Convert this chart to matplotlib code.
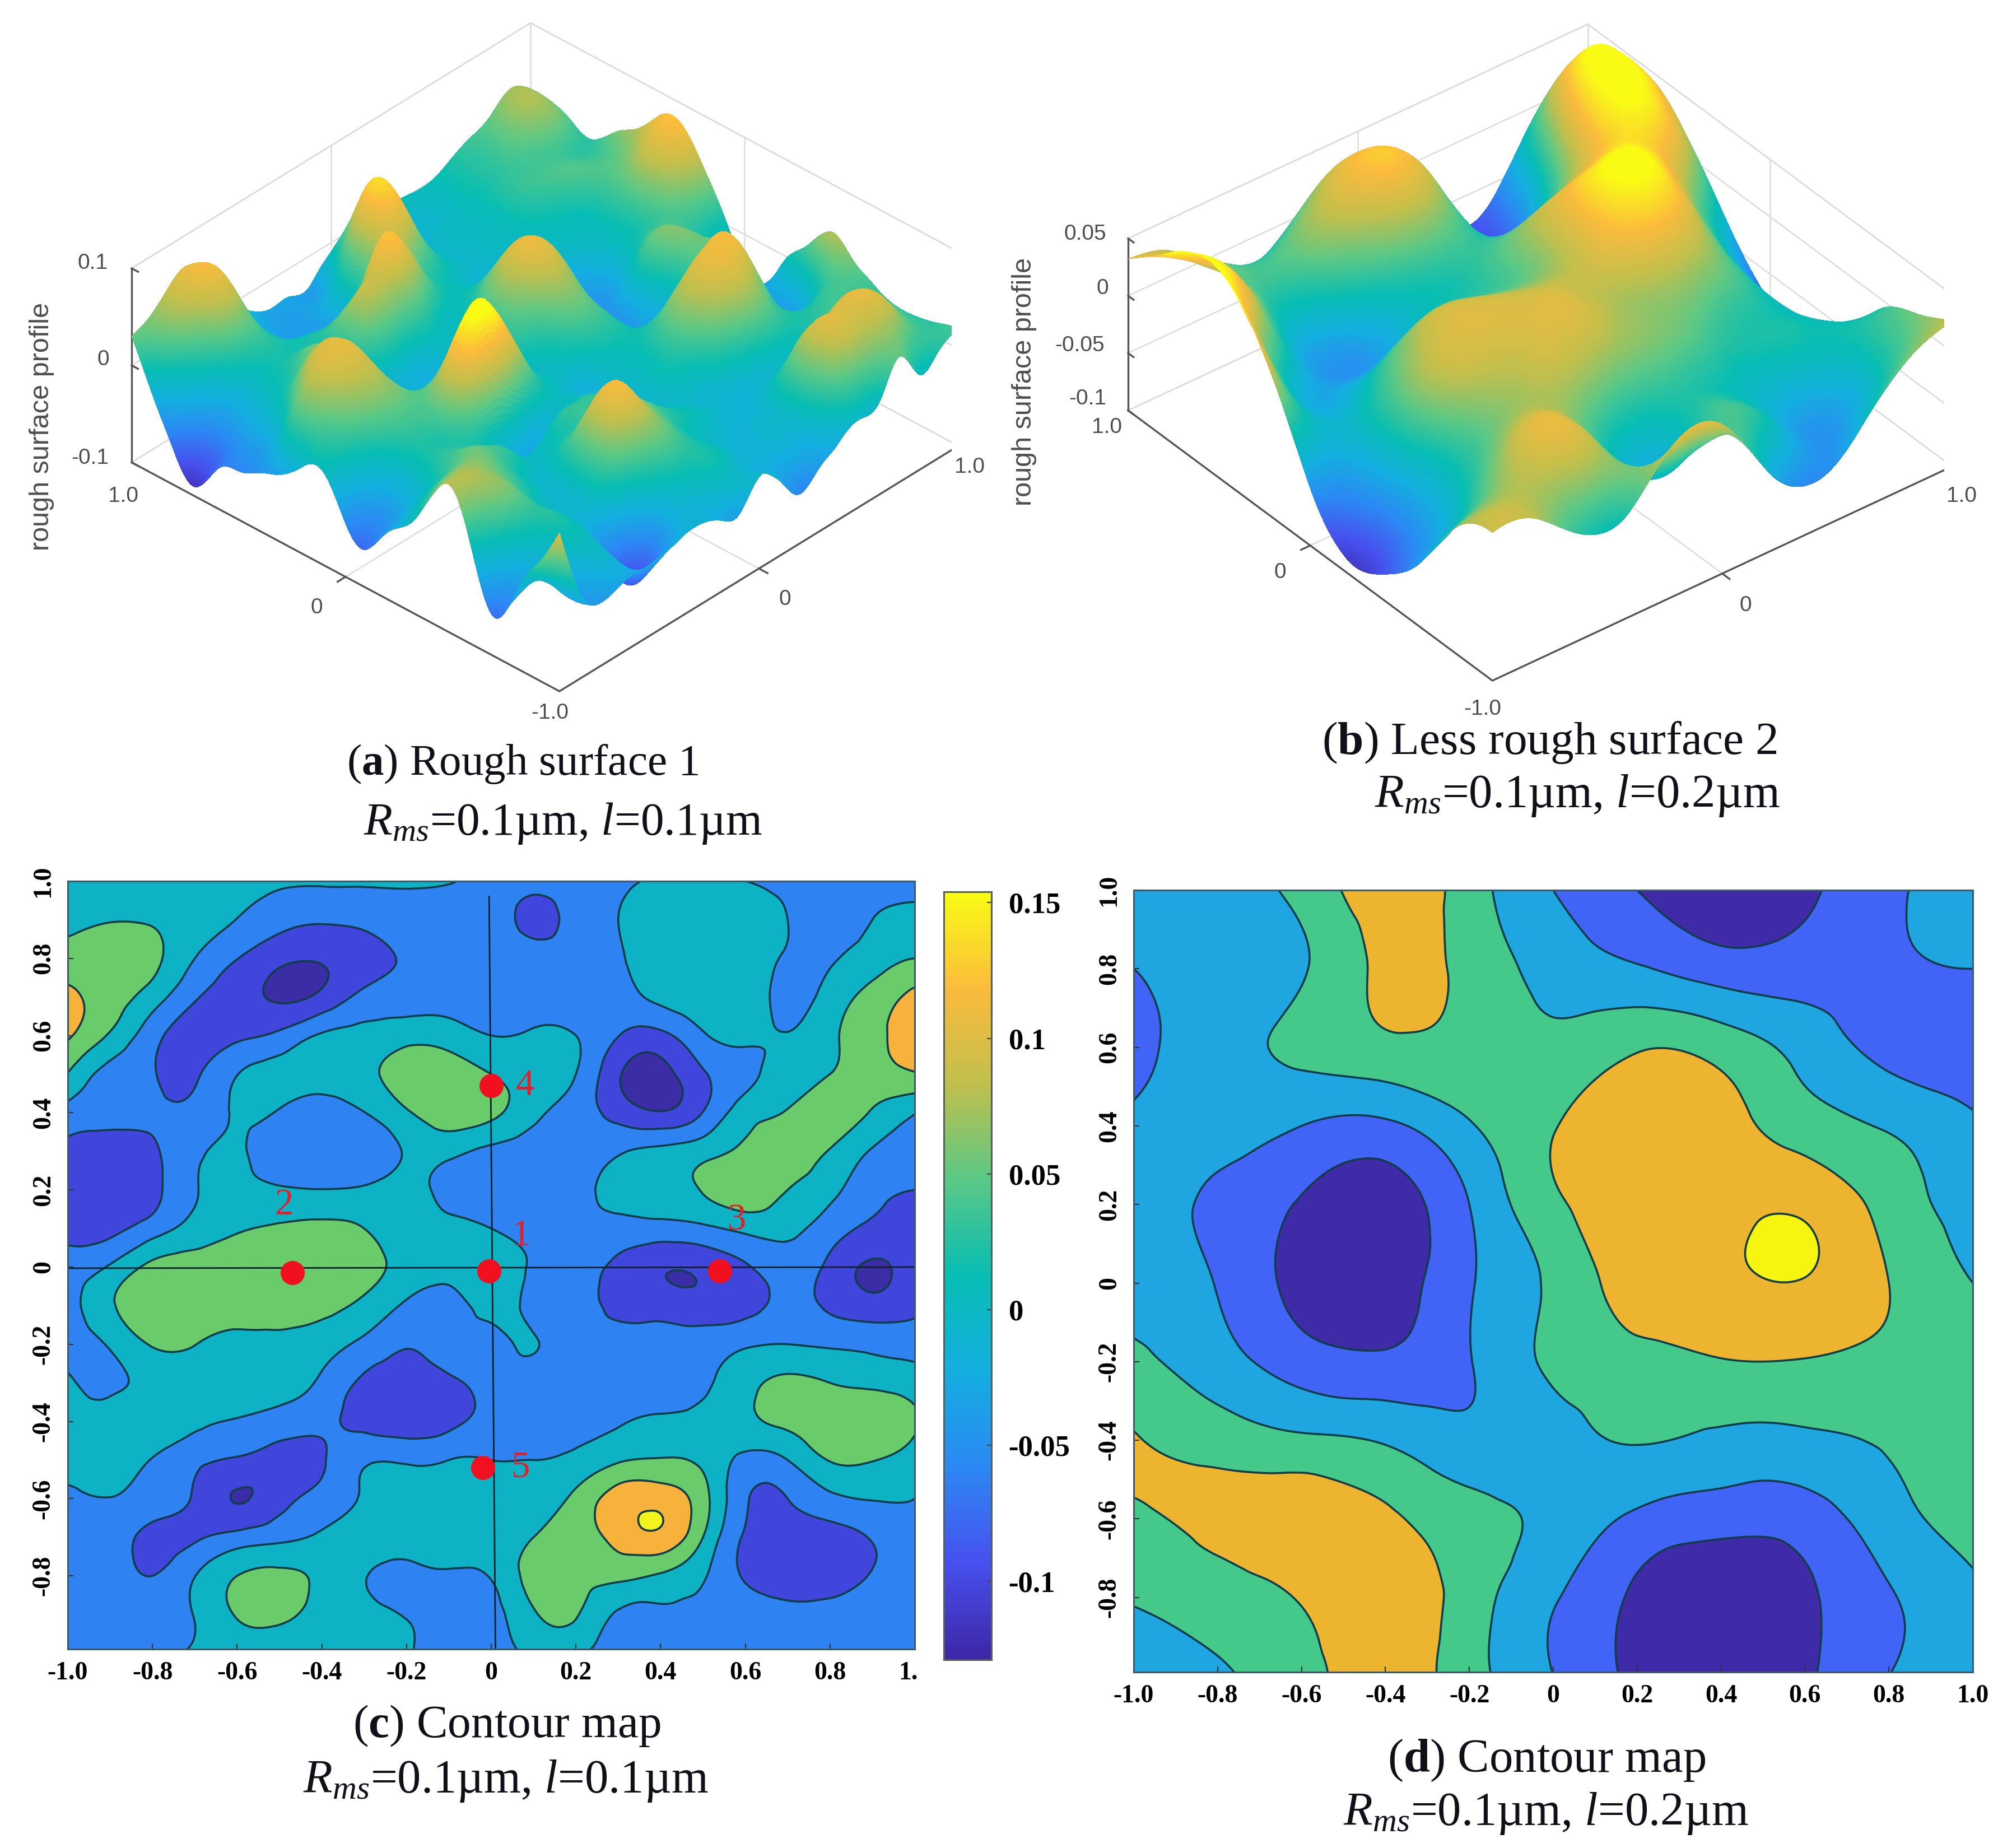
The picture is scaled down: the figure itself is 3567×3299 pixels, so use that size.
import numpy as np
import matplotlib
matplotlib.use("Agg")
import matplotlib.pyplot as plt
import matplotlib.tri as mtri
from matplotlib.colors import LinearSegmentedColormap
from matplotlib.cm import ScalarMappable
from matplotlib.colors import Normalize
from matplotlib.transforms import Bbox
from mpl_toolkits.mplot3d import proj3d

W, H = 3567, 3299

plt.rcParams["font.family"] = ["Liberation Serif", "DejaVu Sans"]
plt.rcParams["mathtext.fontset"] = "custom"
plt.rcParams["mathtext.rm"] = "Liberation Serif"
plt.rcParams["mathtext.it"] = "Liberation Serif:italic"
plt.rcParams["mathtext.bf"] = "Liberation Serif:bold"
plt.rcParams["contour.negative_linestyle"] = "solid"

parula = LinearSegmentedColormap.from_list("parula", [
    "#3e26a8", "#4750ee", "#2c88f4", "#14aee0", "#07bdb3",
    "#5ac886", "#c0bf4d", "#fbbb3c", "#f9fb15"])

# surface heights, rows from y=1.0 down to y=-1.0, in units of 0.01
surf_a = [
    [3, 4, 6, 6.5, 3, 0, -2, -3, -3, -3, -1, -2, -1, 0, 0, 0, 1, 2, 3, 4.5, 3],
    [-2, 3, 6, 7.5, 4, -.5, -3, -3.5, -3, -1, 4, 2, -1, -1.5, -1, 0, 1, 2, 4, 5, 3],
    [-6.6, -2, 2.5, 4.5, 2, -1, -3, -3.5, -2, 4, 9, 5, 0, -1, -.5, 0, 1, 2, 3, 3.5, 2],
    [-9, -5, -1, 1, 1, 0, -1, -2.5, 0, 5, 7.5, 4, 0, -1, -.5, 0, 1.5, 2, 2, 1.5, 1.5],
    [-6, -4, -1, .5, 1, 1, 2, 3, 7, 6.5, 3, 1, -.5, -1, -.5, 0, 1, 2, 2.5, 2, 3.5],
    [-5, -3, 0, 2, 3, 1, 4.5, 5.5, 6, 4, 1, 0, -1, -1.5, -1, -.5, 0, .5, 2, 3, 5],
    [-4, -1, 3.5, 5.5, 3.5, 0, 1, 1, 1, 0, 0, 1.5, 2, 0, -1.5, -1.5, -.5, 0, 2, 5, 7.5],
    [-3, 3.5, 6.5, 7, 4, -1.5, -2, -2, -1, 0, 2, 5, 6, 3, -1, -3.5, -2, 0, 2, 6, 8],
    [-1, 3, 5.5, 6, 3.5, 0, -1, -1.5, -1, 0, 3, 6, 7, 4, -1, -4, -2, 1, 2, 4, 5],
    [-.5, 1, 3, 4, 3, 2, 2, 1, 0, 1, 2, 4, 5, 2, -2, -4, 1, 3.5, 2, 1, 1],
    [-4.5, -3, 0, 2, 2.5, 6, 9, 7, 3, 0, 0, 2, 3, 1, -2, -3, 0, 3.5, 2, -1, -3.5],
    [-6, -4, -1, 1, 2, 7, 9.5, 7, 3, 0, -1, 0, 1, .5, -1, -1, 1, 3, 2, -2, -4],
    [-3, -2, 0, 1.5, 1, 0, -1, -2, -1, -.5, -2, -1, 0, 1, 3, 5, 6.5, 5, -2, -3.5, 0],
    [-1, 1, 2, 3, 2, 0, -1.5, 0, 1, 1, -1, -1, 0, 2, 5, 7, 7.5, 5, -2, -4, 2.5],
    [3, 4, 4, 3, 1, -.5, 0, 1, 2, 1.5, 0, -1, 0, 1, 3.5, 5.5, 5, 2, -1, -1, 5],
    [5, 5, 4, 2, 0, -1, 2, 5, 5, 3, 1, -.5, -1, -1, 0, 1, 1.5, 1, 1, 2, 3.5],
    [-1, 2, 3, 1, -1, -1, 3, 7.5, 6, 3, 1, 0, -1, -1.5, -1.5, -1, 0, 1, 2, 2, 2],
    [-6, -3, 0, 1, -1, -2, 1, 4, 4, 2, 0, -1, -1.5, -1.5, 0, 3, 3.5, 4.5, 4, 3, 1],
    [-2, -2, -1, 0, -2, -6.5, -6, -1, 1, 1, 0, -1.5, -1.5, -1, 1, 6, 6.5, 7, 6, 3, 1],
    [2, -2, -3, -1, -3, -6, -5, -2, -1, 0, -1, -2, -2, -2, 0, 4.5, 5, 5, 4, 2, 1.5],
    [6.3, -1, -3.5, -3, -2.7, -2.5, -2, -1.7, -2.5, -3.2, -.6, -2, -4.9, -3.5, -2.1, -1, -.6, 2.9, -.1, 1, 2.2],
]
surf_b = [
    [3.2, 2, -1, -2, 1.5, 3, -1.2, -7, -6, 0, 2],
    [6, 3, 0, 1, 3.5, 5, .5, -7, -3, 6, 4.2],
    [8.2, 3.5, -3, -3, 0, 1, -1, -3, 2, 7.5, 4],
    [7, -1.5, -4.5, -4.5, -2, -1, 1, 3, 5, 6, .5],
    [2, -3, -2, 1, 1.5, .5, 2, 6, 7, 2, -4],
    [-5, -3, 1, 3.5, 3.5, 3, 3, 5, 4.5, -1, -7.5],
    [-8.8, -4, 1.5, 3, 3.5, 3.5, 2, 2, 1, -2, -9],
    [-7.8, -4, 0, 2, 2.5, 1.5, 1, 0, -1, -2, -6],
    [-4.5, -1.5, 2.5, 3, -1, -2, -1, -2, -2, -1.5, -1],
    [1, 2, 3, 2.5, -2, -2, 0, -3, -5, -2, 1],
    [2.9, 2.2, -1, -.8, 3.4, 3, -3, -5.8, -3, 1, 2.7],
]
# contour maps, same row order; map c in units of 0.01, map d in contour bands
map_c = [
    [0, .5, .5, .5, .5, 0, 0, 0, 0, -.3, -2, -3, -2.5, -1, -.3, -.3, -.5, -1.5, -2.5, -3, -3],
    [2.5, 3.3, 3, 1.5, -.6, -3, -4, -3.5, -2.5, -2, -2.5, -5.5, -3, -.5, 1, 1.5, 1, -.5, -2.5, -.5, 1],
    [5, 5.5, 4.5, -.5, -4.4, -7.5, -8, -6, -4, -2.5, -2, -3, -3, -1, 1.5, 2, 1.5, -1, -1, 1.5, 3.5],
    [8.5, 5.5, 1.5, -4, -7, -9, -7.5, -3.5, -2.5, -2, -2, -2, -2.5, -2, .5, 2, 1.5, -1.5, 1, 5, 8.5],
    [8, 3, -3, -6.5, -5.5, -3.5, 0, 1, 2, 1.5, -.5, 0, -.5, -4.4, -5.5, -1, .3, -.3, 2.5, 6.5, 9],
    [3.3, -2, -4.3, -5, -.6, .8, 1.5, 2.5, 5.5, 6, 3.5, 1.5, -.5, -8, -10, -5, -1.5, 1.5, 3.5, 6, 7.2],
    [-2, -3.5, -4, -3.5, 0, -.9, -2.5, -.6, 3, 6, 4.5, .5, -2.5, -6, -8.2, -4.4, 1.5, 3.8, 6, 3, -.3],
    [-5.5, -6, -5, -1.5, 0, -3, -4, -3, -.2, .5, -1.5, -2.5, -3, -1, .5, 2, 4.5, 5.5, 3.2, -.8, -2],
    [-6, -6.5, -5.5, -.8, .5, 0, -.4, 0, .5, -1.5, -3, -3.2, -2, 1, 2, 3.8, 6, 3.5, .5, -3, -4.5],
    [-5.5, -5.5, -2.5, 1, 3, 4, 4.5, 3.5, 1, .5, -.5, -2, -2, -2, -2, -1.3, .5, .5, -2.5, -5.5, -6.5],
    [-3, 0, 4.5, 5.5, 6, 6.5, 6.5, 5, 2, 1, 1.2, -1, -3, -5.5, -8, -7.5, -5, -2.5, -5.5, -9, -6],
    [-2.5, 3, 5.5, 6, 5.5, 6, 5, 2.5, -1.2, -2, .5, -1.5, -3, -5.5, -6.2, -7, -6, -3.5, -5.2, -7, -5.5],
    [-2, 0, 3.8, 3.6, 2.5, 2, 1, -1.5, -4.2, -2.5, -1.5, -.3, -2.5, -3, -3, -2.5, -1, -.5, -1, -1.5, -2],
    [0, -1, .5, 1.5, 1.5, .5, -1, -5.5, -7, -5.5, -3, -2.5, -2.5, -2, -2, -1, 2, 4.5, 3.5, 2.5, 1.5],
    [.5, .6, 1.5, .5, -.8, -2, -3.5, -6, -7, -5.8, -3, -2.5, -1.8, -.8, 0, .5, 2.5, 4.5, 6.5, 7, 4],
    [1, 1, -.7, -3.5, -5, -6.5, -5, -1, -1, -.5, -.5, -.5, .5, 3, 3.8, 2.5, -1.5, -.5, 3.7, 3.7, 1.5],
    [-1.5, -.6, -2.5, -5, -8.7, -6, -3, -.2, 1, 1, 1, 1.5, 4.5, 9.5, 10, 5, -4, -4.5, -1.5, -.3, -.5],
    [-2, -3, -5.5, -5, -3, -1.5, .2, 1, 1, 1, 1.5, 3.5, 5.5, 9, 10.5, 3.5, -5, -6.5, -6.2, -4.2, -2],
    [-1.5, -2.5, -4.5, -.6, 3.5, 4.5, 2.5, -.3, -1.5, -1, -.2, 5, 5, 4.5, 3, 0, -5, -7, -6.5, -4.2, -2.5],
    [-1, -2, -2.5, -.3, 3.8, 4.5, 2, .5, -.7, -2, -1.8, 3, 3.8, -1, -1, -1.5, -2, -3, -3, -2.5, -2],
    [-1, -1.5, -1.5, 0, 1, 0, 1, .5, -.3, -1.5, -1.5, 0, -.3, -1.5, -2, -2, -2.5, -2.5, -2, -2, -2],
]
map_d = [
    [-.5, -.3, .3, 1.5, .5, -1, -2, -2.8, -2.2, -1.2, -.5],
    [-1, -.6, -.1, 1.2, .7, -.4, -.9, -1.5, -1.5, -1.2, -1],
    [-1.3, -.4, .2, .75, .7, .3, .9, .6, -.4, -1.3, -1.7],
    [-.8, -.6, -1, -1.2, -.1, .95, 1.6, 1.4, .5, -.1, -.8],
    [-.5, -1.2, -2.1, -2.5, -1, .8, 1.5, 1.72, 1.8, .6, -.4],
    [-.5, -1.05, -2.4, -2.6, -1.1, .2, 1.5, 1.85, 1.95, 1, 0],
    [.3, -.6, -1.5, -1.8, -1.05, .2, .7, .95, .95, .7, .5],
    [1.05, .6, .2, -.1, -.7, -.4, .05, -.2, -.2, .1, .5],
    [.85, 1.25, 1.6, 1.2, .4, -.3, -1.2, -1.6, -1.5, -.4, .3],
    [.1, .5, 1.1, 1.7, .5, -.9, -2.2, -2.9, -2.2, -1.1, -.2],
    [-.6, -.1, .6, 1.5, .4, -1, -2.3, -3, -2.2, -1, -.6],
]
levels_c = [-100, -8.5, -4.5, -.5, 3.5, 7.5, 11.5, 100]
colors_c = ["#3b2da5", "#4046dc", "#2f82f2", "#0db3c4", "#6acb6a", "#f7b23c", "#f5f51e"]
levels_d = [-100, -2, -1, 0, 1, 2, 100]
colors_d = ["#3f2aa8", "#4264f6", "#1fa5e0", "#45c98a", "#edb52f", "#f5f510"]

point_x = [-.005, -.47, .54, 0, -.02]
point_y = [-.01, -.015, -.01, .47, -.52]
point_names = ["1", "2", "3", "4", "5"]
name_x = [.07, -.49, .58, .08, .07]
name_y = [.08, .16, .12, .47, -.52]

map_xticks = [-1, -.8, -.6, -.4, -.2, 0, .2, .4, .6, .8, 1]
map_xlabels = ["-1.0", "-0.8", "-0.6", "-0.4", "-0.2", "0", "0.2", "0.4", "0.6", "0.8", "1.0"]
map_yticks = [-.8, -.6, -.4, -.2, 0, .2, .4, .6, .8, 1]
map_ylabels = ["-0.8", "-0.6", "-0.4", "-0.2", "0", "0.2", "0.4", "0.6", "0.8", "1.0"]
cbar_ticks = [-.1, -.05, 0, .05, .1, .15]
cbar_labels = ["-0.1", "-0.05", "0", "0.05", "0.1", "0.15"]


def fine_grid(values, n):
    # cubic smoothing of the read grid through matplotlib's own triangulation
    z = np.array(values, dtype=float)[::-1]
    ax_vals = np.linspace(-1, 1, z.shape[0])
    gx, gy = np.meshgrid(ax_vals, ax_vals)
    tri = mtri.Triangulation(gx.ravel(), gy.ravel())
    interp = mtri.CubicTriInterpolator(tri, z.ravel(), kind="min_E")
    fx, fy = np.meshgrid(np.linspace(-1 + 1e-6, 1 - 1e-6, n), np.linspace(-1 + 1e-6, 1 - 1e-6, n))
    return fx, fy, np.ma.filled(interp(fx, fy), np.nan)


def add_axes_px(x0, y0, x1, y1, **kw):
    return fig.add_axes([x0 / W, 1 - y1 / H, (x1 - x0) / W, (y1 - y0) / H], **kw)


def label(x, y, s, **kw):
    kw.setdefault("ha", "center")
    kw.setdefault("va", "center")
    return fig.text(x / W, 1 - y / H, s, **kw)


def draw_box(ax, z0, z1, zticks):
    light = "#dcdcdc"
    dark = "#555555"
    for z in zticks:
        ax.plot([-1, 1, 1], [1, 1, -1], [z, z, z], color=light, lw=1.8, zorder=1)
    ax.plot([-1, 1, 1], [1, 1, -1], [z1, z1, z1], color=light, lw=1.8, zorder=1)
    ax.plot([-1, 1, 1], [1, 1, -1], [z0, z0, z0], color=light, lw=1.8, zorder=1)
    for x, y in [(0, 1), (1, 1), (1, 0), (1, -1)]:
        ax.plot([x, x], [y, y], [z0, z1], color=light, lw=1.8, zorder=1)
    ax.plot([0, 0], [-1, 1], [z0, z0], color=light, lw=1.8, zorder=1)
    ax.plot([-1, 1], [0, 0], [z0, z0], color=light, lw=1.8, zorder=1)
    ax.plot([-1, -1, 1], [1, -1, -1], [z0, z0, z0], color=dark, lw=2.4, zorder=1)
    ax.plot([-1, -1], [1, 1], [z0, z1], color=dark, lw=2.4, zorder=1)
    for z in zticks:
        ax.plot([-1, -1], [1, .97], [z, z], color=dark, lw=2.4, zorder=1)
    ax.plot([0, 0], [-1, -1.04], [z0, z0], color=dark, lw=2.4, zorder=1)
    ax.plot([-1, -1.04], [0, 0], [z0, z0], color=dark, lw=2.4, zorder=1)


def draw_surface(values, scale, elev, azim, z0, z1, zr, zticks, vmin, vmax, left, right, bottom):
    ax = add_axes_px(0, 0, 1500, 1500, projection="3d", proj_type="ortho")
    ax.set_facecolor("none")
    ax.set_axis_off()
    ax.computed_zorder = False
    ax.view_init(elev=elev, azim=azim)
    ax.set_box_aspect((1, 1, zr))
    ax.set_xlim(-1, 1)
    ax.set_ylim(-1, 1)
    ax.set_zlim(z0, z1)
    draw_box(ax, z0, z1, zticks)
    fx, fy, fz = fine_grid(values, 301)
    ax.plot_surface(fx, fy, fz * scale, cmap=parula, vmin=vmin, vmax=vmax, rcount=301, ccount=301,
                    linewidth=0, antialiased=False, shade=False, zorder=2)
    # scale and shift the axes so that the floor corners land where they are in the reference
    ax.apply_aspect()
    M = ax.get_proj()

    def corner(x, y):
        px, py, _ = proj3d.proj_transform(x, y, z0, M)
        return ax.transData.transform((px, py)) - np.array([0, H - 1500])
    a = corner(-1, 1)
    b = corner(1, -1)
    c = corner(-1, -1)
    s = (right - left) / (b[0] - a[0])
    x0 = left - a[0] * s
    y0 = (H - bottom) - c[1] * s
    ax.set_position([x0 / W, y0 / H, 1500 * s / W, 1500 * s / H])
    return ax


def draw_map(values, scale, levels, colors, x0, y0, x1, y1, ylim):
    ax = add_axes_px(x0, y0, x1, y1)
    fx, fy, fz = fine_grid(values, 401)
    lv = np.array(levels) * scale
    ax.contourf(fx, fy, fz * scale, levels=lv, colors=colors)
    ax.contour(fx, fy, fz * scale, levels=lv[1:-1], colors="#123c48", linewidths=2.6)
    ax.set_xlim(-1, 1)
    ax.set_ylim(*ylim)
    ax.set_xticks(map_xticks)
    ax.set_xticklabels(map_xlabels, fontsize=33, fontweight="bold")
    ax.set_yticks(map_yticks)
    ax.set_yticklabels(map_ylabels, fontsize=33, fontweight="bold", rotation=90, va="center")
    ax.tick_params(direction="in", length=7, width=1.5, color="#333333", pad=16)
    for sp in ax.spines.values():
        sp.set_color("#3c5a6a")
        sp.set_linewidth(2.2)
    return ax


fig = plt.figure(figsize=(W / 100, H / 100), dpi=100, facecolor="white")

# (a) and (b) rough surfaces
draw_surface(surf_a, .01, 35, -137, -.1, .1, .405, [-.1, 0, .1], -.1, .105, 235, 1711, 1234)
draw_surface(surf_b, .01, 36, -128.4, -.1, .05, .3625, [-.1, -.05, 0, .05], -.1, .068, 2014, 3485, 1215)

sans = dict(family="Liberation Sans", color="#4d4d4d", fontsize=28)
for x, y, s in [(166, 470, "0.1"), (184, 642, "0"), (161, 818, "-0.1"), (220, 886, "1.0"),
                (565, 1085, "0"), (982, 1273, "-1.0"), (1731, 834, "1.0"), (1401, 1070, "0")]:
    label(x, y, s, **sans)
label(75, 761, "rough surface profile", rotation=90, **{**sans, "fontsize": 35})
for x, y, s in [(1937, 418, "0.05"), (1968, 515, "0"), (1928, 617, "-0.05"), (1942, 712, "-0.1"),
                (1976, 763, "1.0"), (2285, 1022, "0"), (2647, 1266, "-1.0"), (3502, 886, "1.0"), (3116, 1081, "0")]:
    label(x, y, s, **sans)
label(1828, 681, "rough surface profile", rotation=90, **{**sans, "fontsize": 35})

# (c) contour map with probe points
ax_c = draw_map(map_c, .01, levels_c, colors_c, 121, 1573, 1633, 2944, (-.99, 1))
ax_c.plot([-.005, .01], [.96, -.99], color="#10202a", lw=2)
ax_c.plot([-1, 1], [-.003, 0], color="#10202a", lw=2)
ax_c.plot(point_x, point_y, "o", color="#f01020", ms=31, mec="none")
for x, y, s in zip(name_x, name_y, point_names):
    ax_c.text(x, y, s, color="#e0202a", fontsize=48, ha="center", va="center")
for t in ax_c.get_xticklabels():
    if t.get_text() == "1.0":
        t.set_clip_box(Bbox([[0, 0], [1640, H]]))
        t.set_clip_on(True)

cax = add_axes_px(1685, 1592, 1770, 2963)
cb = fig.colorbar(ScalarMappable(Normalize(-.129, .154), parula), cax=cax, ticks=cbar_ticks)
cb.ax.set_yticklabels(cbar_labels, fontsize=38, fontweight="bold")
cb.ax.tick_params(direction="in", length=6, width=1.5, color="#444444", pad=22)
cb.outline.set_edgecolor("#55605a")
cb.outline.set_linewidth(2.2)

# (d) contour map
draw_map(map_d, 1, levels_d, colors_d, 2024, 1589, 3522, 2985, (-.99, .99))

# captions
label(933, 1363, r"($\mathbf{a}$) Rough surface 1", fontsize=57, color="#101018")
label(1005, 1470, r"$R_{ms}$=0.1µm, $l$=0.1µm", fontsize=60, color="#101018")
label(2766, 1325, r"($\mathbf{b}$) Less rough surface 2", fontsize=60, color="#101018")
label(2816, 1420, r"$R_{ms}$=0.1µm, $l$=0.2µm", fontsize=61, color="#101018")
label(905, 3081, r"($\mathbf{c}$) Contour map", fontsize=60, color="#101018")
label(903, 3179, r"$R_{ms}$=0.1µm, $l$=0.1µm", fontsize=61, color="#101018")
label(2761, 3143, r"($\mathbf{d}$) Contour map", fontsize=61, color="#101018")
label(2760, 3238, r"$R_{ms}$=0.1µm, $l$=0.2µm", fontsize=61, color="#101018")

fig.savefig("out.png", dpi=100, facecolor="white")
